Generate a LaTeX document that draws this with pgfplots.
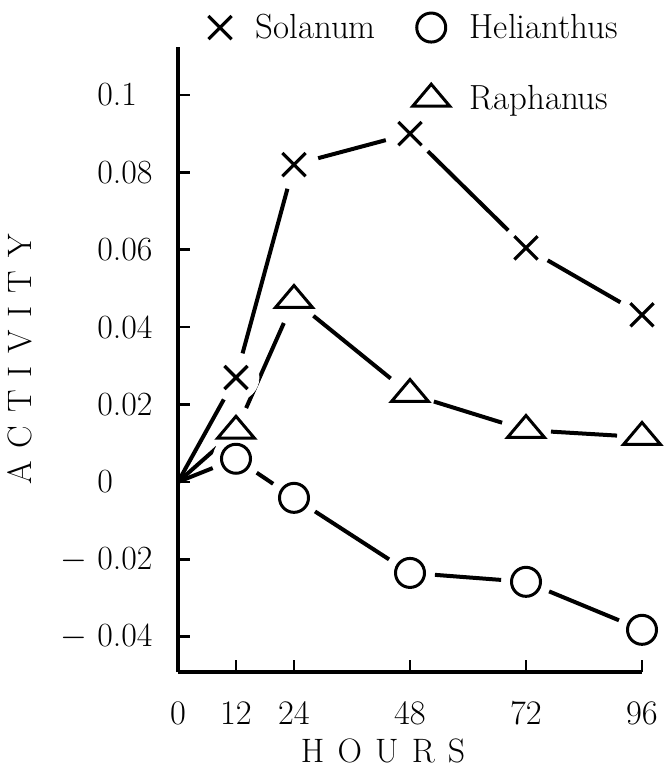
\documentclass[border=0pt]{standalone}
\usepackage{pgfplots}
\pgfplotsset{compat=1.18}

% values
\pgfplotstableread{
h    sol     rap     hel
0    0       0       0
12   0.027   0.0132  0.006
24   0.082   0.047   -0.0041
48   0.090   0.0227  -0.0235
72   0.0605  0.0134  -0.0258
96   0.0432  0.0116  -0.0382
}\activity

\begin{document}
\begin{tikzpicture}
\begin{axis}[
  at={(0,0)}, anchor=south west,
  scale only axis, width=232bp, height=312.5bp,
  xmin=0, xmax=96, ymin=-0.0491, ymax=0.1124,
  axis x line*=bottom, axis y line*=left,
  axis line style={line width=2bp},
  tick align=inside, major tick length=6bp,
  tick style={line width=1.3bp, black},
  xtick={0,12,24,48,72,96},
  ytick={-0.04,-0.02,0,0.02,0.04,0.06,0.08,0.1},
  yticklabels={\llap{$-$\hspace{5bp}}0.04,\llap{$-$\hspace{5bp}}0.02,0,0.02,0.04,0.06,0.08,0.1},
  tick label style={font=\fontsize{17}{17}\selectfont},
  yticklabel style={anchor=west, inner sep=0pt, xshift=-40.5bp},
  xticklabel style={anchor=north, inner sep=0pt, yshift=-15bp},
  xlabel={H\hspace{6.6bp}O\hspace{6.6bp}U\hspace{6.6bp}R\hspace{6.6bp}S},
  ylabel={A\hspace{6.4bp}C\hspace{6.4bp}T\hspace{6.4bp}I\hspace{6.4bp}V\hspace{6.4bp}I\hspace{6.4bp}T\hspace{6.4bp}Y},
  xlabel style={at={(axis description cs:0.442,-0.1056)}, anchor=north, inner sep=0pt, font=\fontsize{17}{17}\selectfont},
  ylabel style={at={(axis description cs:-0.3405,0.5)}, anchor=center, inner sep=0pt, font=\fontsize{17}{17}\selectfont},
  clip=false,
  legend image code/.code={\draw[#1] plot coordinates {(0,0)};},
  legend columns=2, legend cell align=left,
  legend style={draw=none, fill=none, inner sep=0pt,
    at={(axis description cs:0.0647,1.06)}, anchor=north west,
    font=\fontsize{17.5}{17.5}\selectfont,
    column sep=8bp, row sep=18bp},
]
  % connecting lines, one piece per interval; the dash pattern leaves a
  % 12.5bp gap at each point (lengths are the pieces' lengths on the page)
  \addplot[black, line width=2bp, forget plot, dash pattern=on 47.2bp off 500bp, restrict x to domain=0:12] table[x=h, y=sol] {\activity};
  \addplot[black, line width=2bp, forget plot, dash pattern=on 85.3bp off 25bp, dash phase=97.8bp, restrict x to domain=12:24] table[x=h, y=sol] {\activity};
  \addplot[black, line width=2bp, forget plot, dash pattern=on 35.0bp off 25bp, dash phase=47.5bp, restrict x to domain=24:48] table[x=h, y=sol] {\activity};
  \addplot[black, line width=2bp, forget plot, dash pattern=on 56.4bp off 25bp, dash phase=68.9bp, restrict x to domain=48:72] table[x=h, y=sol] {\activity};
  \addplot[black, line width=2bp, forget plot, dash pattern=on 42.0bp off 25bp, dash phase=54.5bp, restrict x to domain=72:96] table[x=h, y=sol] {\activity};
  \addplot[black, line width=2bp, forget plot, dash pattern=on 26.1bp off 500bp, restrict x to domain=0:12] table[x=h, y=rap] {\activity};
  \addplot[black, line width=2bp, forget plot, dash pattern=on 46.5bp off 25bp, dash phase=59.0bp, restrict x to domain=12:24] table[x=h, y=rap] {\activity};
  \addplot[black, line width=2bp, forget plot, dash pattern=on 49.7bp off 25bp, dash phase=62.2bp, restrict x to domain=24:48] table[x=h, y=rap] {\activity};
  \addplot[black, line width=2bp, forget plot, dash pattern=on 35.7bp off 25bp, dash phase=48.2bp, restrict x to domain=48:72] table[x=h, y=rap] {\activity};
  \addplot[black, line width=2bp, forget plot, dash pattern=on 33.1bp off 25bp, dash phase=45.6bp, restrict x to domain=72:96] table[x=h, y=rap] {\activity};
  \addplot[black, line width=2bp, forget plot, dash pattern=on 18.7bp off 500bp, restrict x to domain=0:12] table[x=h, y=hel] {\activity};
  \addplot[black, line width=2bp, forget plot, dash pattern=on 9.9bp off 25bp, dash phase=22.4bp, restrict x to domain=12:24] table[x=h, y=hel] {\activity};
  \addplot[black, line width=2bp, forget plot, dash pattern=on 44.1bp off 25bp, dash phase=56.6bp, restrict x to domain=24:48] table[x=h, y=hel] {\activity};
  \addplot[black, line width=2bp, forget plot, dash pattern=on 33.2bp off 25bp, dash phase=45.7bp, restrict x to domain=48:72] table[x=h, y=hel] {\activity};
  \addplot[black, line width=2bp, forget plot, dash pattern=on 37.8bp off 25bp, dash phase=50.3bp, restrict x to domain=72:96] table[x=h, y=hel] {\activity};
  % white discs round the points (backup for the gaps)
  \addplot[only marks, draw opacity=0, mark=*, mark size=11.5bp, forget plot, skip coords between index={0}{1},
    mark options={draw=white, fill=white, draw opacity=1, fill opacity=1}] table[x=h, y=sol] {\activity};
  \addplot[only marks, draw opacity=0, mark=*, mark size=11.5bp, forget plot, skip coords between index={0}{1},
    mark options={draw=white, fill=white, draw opacity=1, fill opacity=1}] table[x=h, y=rap] {\activity};
  \addplot[only marks, draw opacity=0, mark=*, mark size=11.5bp, forget plot, skip coords between index={0}{1},
    mark options={draw=white, fill=white, draw opacity=1, fill opacity=1}] table[x=h, y=hel] {\activity};
  % markers (their own connecting path kept invisible)
  \addplot[black, only marks, draw opacity=0, mark=x, mark size=8.2bp,
    mark options={line width=1.6bp, solid, draw=black, draw opacity=1},
    forget plot, skip coords between index={0}{1}] table[x=h, y=sol] {\activity};
  \addplot[black, only marks, draw opacity=0, mark=triangle, mark size=7.3bp,
    mark options={line width=1.5bp, xscale=1.46, solid, draw=black, draw opacity=1},
    forget plot, skip coords between index={0}{1}] table[x=h, y=rap] {\activity};
  \addplot[black, only marks, draw opacity=0, mark=o, mark size=7.25bp,
    mark options={line width=1.5bp, solid, draw=black, draw opacity=1},
    forget plot, skip coords between index={0}{1}] table[x=h, y=hel] {\activity};
  % legend
  \addlegendimage{black, only marks, mark=x, mark size=8.2bp, mark options={line width=1.6bp}}
  \addlegendentry{\hspace*{2bp}Solanum\hspace*{8.5bp}}
  \addlegendimage{black, only marks, mark=o, mark size=7.25bp, mark options={line width=1.5bp}}
  \addlegendentry{Helianthus}
  \addlegendimage{empty legend}
  \addlegendentry{}
  \addlegendimage{black, only marks, mark=triangle, mark size=7.3bp, mark options={line width=1.5bp, xscale=1.46}}
  \addlegendentry{Raphanus}
  % page extent: same margins round the axis as the reference
  \path (axis description cs:-0.38362,-0.152) rectangle (axis description cs:1.04741,1.0752);
\end{axis}
\end{tikzpicture}
\end{document}
